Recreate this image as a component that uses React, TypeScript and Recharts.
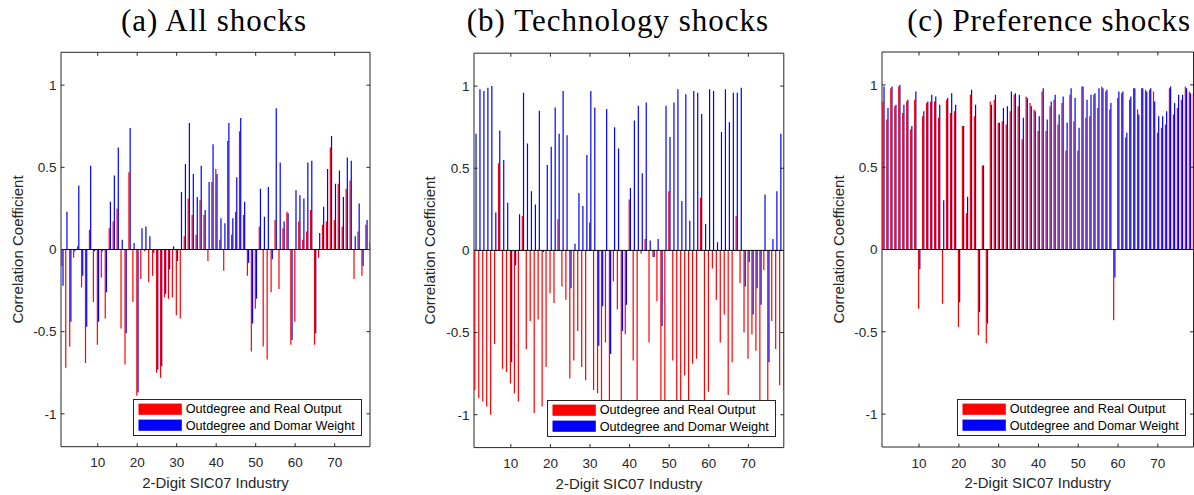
import React from 'react';
import { BarChart, Bar, XAxis, YAxis, ReferenceLine, ReferenceArea, Legend } from 'recharts';

// industries (2-digit SIC07 index) and axis ticks
const INDUSTRIES = [
  1, 2, 3, 4, 5, 6, 7, 8, 9, 10, 11, 12, 13, 14, 15, 16, 17, 18, 19, 20,
  21, 22, 23, 24, 25, 26, 27, 28, 29, 30, 31, 32, 33, 34, 35, 36, 37, 38, 39, 40,
  41, 42, 43, 44, 45, 46, 47, 48, 49, 50, 51, 52, 53, 54, 55, 56, 57, 58, 59, 60,
  61, 62, 63, 64, 65, 66, 67, 68, 69, 70, 71, 72, 73, 74, 75, 76, 77, 78, 79,
];
const X_TICKS = [10, 20, 30, 40, 50, 60, 70];
const Y_TICKS = [-1, -0.5, 0, 0.5, 1];

// (a) all shocks
const ALL_REAL = [
  -0.10, -0.72, -0.59, -0.05, 0.02, -0.23, -0.69, 0.12, -0.32, -0.58,
  -0.17, -0.42, 0.13, 0.17, 0.25, -0.48, -0.70, 0.47, -0.32, -0.89,
  -0.18, -0.01, -0.20, -0.16, -0.75, -0.78, -0.29, -0.30, -0.29, -0.40,
  -0.42, 0.08, 0.31, 0.21, 0.09, 0.30, 0.21, -0.07, 0.41, 0.49,
  0.06, -0.13, 0.66, 0.09, 0.23, 0.72, 0.21, -0.16, -0.62, -0.36,
  0.14, -0.59, -0.67, -0.26, 0.18, -0.24, 0.13, 0.23, -0.58, -0.44,
  0.17, 0.06, 0.11, 0.24, -0.58, -0.05, 0.15, 0.17, 0.62, 0.18,
  0.40, 0.14, 0.37, 0.42, -0.18, 0.11, -0.16, 0.15, 0.05,
];
const ALL_DOMAR = [
  -0.22, 0.23, -0.44, -0.01, 0.39, -0.16, -0.47, 0.51, -0.01, -0.44,
  -0.01, -0.26, 0.29, 0.45, 0.62, 0.06, -0.51, 0.74, 0.04, -0.87,
  0.13, 0.14, 0.08, -0.02, -0.73, -0.71, -0.27, -0.12, 0.02, -0.07,
  0.35, 0.52, 0.77, 0.46, 0.32, 0.51, 0.24, 0.41, 0.64, 0.46,
  0.19, 0.16, 0.77, 0.19, 0.44, 0.80, 0.29, -0.08, -0.45, -0.30,
  0.37, 0.20, 0.38, -0.06, 0.86, 0.53, 0.17, 0.22, -0.55, 0.36,
  0.33, 0.31, 0.53, 0.54, -0.51, 0.10, 0.26, 0.49, 0.69, 0.40,
  0.48, 0.32, 0.56, 0.54, 0.08, 0.28, -0.10, 0.18, 0.10,
];

// (b) technology shocks
const TECH_REAL = [
  -0.85, -0.90, -0.92, -0.95, -1.00, -0.57, 0.53, -0.72, -0.74, -0.81,
  -0.87, -0.92, 0.21, -0.60, -0.43, -0.99, -0.42, -0.95, -0.71, -0.26,
  -0.32, 0.19, -0.22, -0.30, -0.78, -0.67, -0.49, -0.71, -0.79, 0.17,
  -0.85, -0.87, -0.95, -0.56, -0.93, -0.19, -0.36, -0.91, -0.51, 0.31,
  -0.67, -0.92, -0.02, 0.07, -0.56, -0.04, -0.31, -0.96, -0.97, 0.36,
  -0.67, -0.98, -0.95, -0.76, -0.94, -0.69, -0.66, 0.32, -0.97, -0.86,
  -0.11, -0.30, -0.56, -0.39, -0.88, -0.68, 0.21, -0.20, -0.50, -0.66,
  -0.51, -0.61, -0.94, -0.12, -0.96, -0.43, -0.60, -0.82, -0.85,
];
const TECH_DOMAR = [
  0.71, 0.98, 0.97, 0.99, 1.00, 0.23, 0.73, 0.55, 0.29, -0.68,
  -0.09, 0.22, 0.96, 0.65, 0.36, 0.28, 0.85, -0.01, 0.52, 0.63,
  0.87, 0.71, 0.97, 0.70, -0.23, 0.04, 0.35, 0.27, 0.58, 0.97,
  0.87, -0.58, -0.34, 0.86, -0.63, 0.75, 0.62, -0.49, -0.33, 0.38,
  0.79, 0.88, 0.47, 0.90, 0.06, -0.04, 0.07, -0.46, 0.88, 0.69,
  0.90, 0.98, 0.30, 0.95, 0.18, 0.97, 0.96, 0.83, 0.16, 0.98,
  0.97, 0.05, 0.72, 0.98, 0.78, 0.96, 0.96, 0.99, -0.22, -0.07,
  -0.39, -0.23, -0.33, 0.34, -0.68, 0.07, 0.36, 0.71, 0.50,
];

// (c) preference shocks
const PREF_REAL = [
  0.90, 0.79, 0.98, 0.87, 0.99, 0.83, 0.90, 0.73, 0.91, -0.36,
  0.81, 0.89, 0.90, 0.90, 0.80, -0.33, 0.91, 0.83, 0.84, -0.47,
  0.75, 0.22, 0.94, 0.81, -0.52, 0.51, -0.57, 0.90, 0.91, 0.77,
  0.78, 0.76, 0.84, 0.94, 0.87, 0.67, 0.93, 0.89, 0.85, 0.72,
  0.96, 0.72, 0.87, 0.91, 0.76, 0.89, 0.60, 0.94, 0.78, 0.60,
  0.99, 0.80, 0.81, 0.94, 0.86, 0.99, 0.96, 0.85, -0.43, 0.92,
  0.95, 0.68, 0.91, 0.98, 0.85, 0.98, 0.97, 0.97, 0.96, 0.71,
  0.74, 0.76, 0.98, 0.82, 0.86, 0.91, 0.99, 0.96, 0.95,
];
const PREF_DOMAR = [
  0.99, 0.86, 0.99, 0.88, 1.00, 0.88, 0.91, 0.75, 0.96, -0.12,
  0.84, 0.90, 0.94, 0.93, 0.88, 0.30, 0.92, 0.95, 0.88, -0.32,
  0.75, 0.32, 0.97, 0.88, -0.38, 0.51, -0.45, 0.88, 0.94, 0.77,
  0.86, 0.87, 0.96, 0.95, 0.94, 0.80, 0.92, 0.87, 0.84, 0.81,
  0.98, 0.79, 0.90, 0.94, 0.82, 0.93, 0.77, 0.98, 0.92, 0.74,
  0.99, 0.91, 0.94, 0.95, 0.98, 0.98, 0.97, 0.89, -0.17, 0.96,
  0.96, 0.71, 0.93, 0.98, 0.82, 0.98, 0.96, 0.98, 0.90, 0.81,
  0.81, 0.84, 0.99, 0.89, 0.94, 0.94, 0.98, 0.95, 0.95,
];

const TITLES = ['(a) All shocks', '(b) Technology shocks', '(c) Preference shocks'];
const SERIES_NAMES = ['Outdegree and Real Output', 'Outdegree and Domar Weight'];
const SERIES_COLORS = ['#ff0000', '#0000ff'];
const X_LABEL = '2-Digit SIC07 Industry';
const Y_LABEL = 'Correlation Coefficient';

const X_MIN = 0.7;
const X_MAX = 78.95;
const Y_MIN = -1.2;
const Y_MAX = 1.2;
const AXIS_W = 61;
const RIGHT_PAD = 14;
const H = 495;
const SANS = '"Liberation Sans", Arial, Helvetica, sans-serif';
const FRAME = '#262626';
const TICK_LEN = 3.5;

const PANELS = [
  { title: TITLES[0], titleX: 214, spacing: 1, left: 61, top: 52.3, plotW: 309, plotH: 394.4, real: ALL_REAL, domar: ALL_DOMAR },
  { title: TITLES[1], titleX: 618, spacing: 1, left: 474.3, top: 53.2, plotW: 309.8, plotH: 394.4, real: TECH_REAL, domar: TECH_DOMAR },
  { title: TITLES[2], titleX: 1049, spacing: 0.8, left: 882.3, top: 52.0, plotW: 311.5, plotH: 395, real: PREF_REAL, domar: PREF_DOMAR },
];

function buildRows(real: number[], domar: number[]) {
  return INDUSTRIES.map((x, i) => ({ x, real: real[i], domar: domar[i] }));
}

const renderLegend = (props: any) => {
  const items = props.payload || [];
  // keep the series order of the original figure
  const ordered = SERIES_NAMES.map((name, i) => {
    const hit = items.find((it: any) => it.value === name);
    return { value: name, color: hit ? hit.color : SERIES_COLORS[i] };
  });
  return (
    <svg width={229} height={37} style={{ display: 'block' }}>
      <rect x={0.5} y={0.5} width={228} height={36} fill="#fff" stroke={FRAME} />
      {ordered.map((it, i) => (
        <g key={it.value}>
          <rect x={5.5} y={4.6 + 16 * i} width={43.3} height={11.2} fill={it.color} />
          <text x={52.7} y={14.4 + 16.2 * i} fontSize={12.7} fontFamily={SANS} fill="#000">
            {it.value}
          </text>
        </g>
      ))}
    </svg>
  );
};

interface PanelProps {
  left: number;
  top: number;
  plotW: number;
  plotH: number;
  real: number[];
  domar: number[];
}

function Panel({ left, top, plotW, plotH, real, domar }: PanelProps) {
  const rows = buildRows(real, domar);
  const xAxisH = H - top - plotH;

  // inward ticks on both sides, MATLAB style
  const XTick = (p: any) => {
    const { x, y, payload } = p;
    return (
      <g>
        <line x1={x} x2={x} y1={y} y2={y - TICK_LEN} stroke={FRAME} />
        <line x1={x} x2={x} y1={y - plotH} y2={y - plotH + TICK_LEN} stroke={FRAME} />
        <text x={x} y={y + 20.6} textAnchor="middle" fontSize={13.5} fontFamily={SANS} fill={FRAME}>
          {payload.value}
        </text>
      </g>
    );
  };

  const YTick = (p: any) => {
    const { x, y, payload } = p;
    return (
      <g>
        <line x1={x} x2={x + TICK_LEN} y1={y} y2={y} stroke={FRAME} />
        <line x1={x + plotW} x2={x + plotW - TICK_LEN} y1={y} y2={y} stroke={FRAME} />
        <text x={x - 4.5} y={y + 4.8} textAnchor="end" fontSize={13.5} fontFamily={SANS} fill={FRAME}>
          {payload.value}
        </text>
      </g>
    );
  };

  const xLabel = (p: any) => {
    const vb = p.viewBox || { x: AXIS_W, y: top + plotH, width: plotW };
    return (
      <text x={vb.x + vb.width / 2} y={vb.y + 41.3} textAnchor="middle" fontSize={15} fontFamily={SANS} fill={FRAME}>
        {X_LABEL}
      </text>
    );
  };

  const yLabel = (p: any) => {
    const vb = p.viewBox || { x: 0, y: top, width: AXIS_W, height: plotH };
    const cx = vb.x + vb.width - 38.5;
    const cy = vb.y + vb.height / 2;
    return (
      <text x={cx} y={cy} transform={`rotate(-90, ${cx}, ${cy})`} textAnchor="middle" fontSize={15} fontFamily={SANS} fill={FRAME}>
        {Y_LABEL}
      </text>
    );
  };

  return (
    <div style={{ position: 'absolute', left: left - AXIS_W, top: 0 }}>
      <BarChart
        width={AXIS_W + plotW + RIGHT_PAD}
        height={H}
        data={rows}
        margin={{ top, right: RIGHT_PAD, bottom: 0, left: 0 }}
        barGap={0}
        barSize={1.2}
      >
        <XAxis
          dataKey="x"
          type="number"
          domain={[X_MIN, X_MAX]}
          allowDataOverflow
          ticks={X_TICKS}
          interval={0}
          height={xAxisH}
          axisLine={false}
          tickLine={false}
          tickSize={0}
          tickMargin={0}
          tick={XTick}
          label={{ value: X_LABEL, content: xLabel }}
        />
        <YAxis
          type="number"
          domain={[Y_MIN, Y_MAX]}
          allowDataOverflow
          ticks={Y_TICKS}
          interval={0}
          width={AXIS_W}
          axisLine={false}
          tickLine={false}
          tickSize={0}
          tickMargin={0}
          tick={YTick}
          label={{ value: Y_LABEL, content: yLabel }}
        />
        <Bar dataKey="real" name={SERIES_NAMES[0]} fill={SERIES_COLORS[0]} isAnimationActive={false} />
        <Bar dataKey="domar" name={SERIES_NAMES[1]} fill={SERIES_COLORS[1]} isAnimationActive={false} />
        <ReferenceLine y={0} stroke="#000" strokeWidth={1} />
        <ReferenceArea x1={X_MIN} x2={X_MAX} y1={Y_MIN} y2={Y_MAX} fill="none" stroke={FRAME} ifOverflow="visible" />
        <Legend
          layout="vertical"
          align="center"
          verticalAlign="middle"
          wrapperStyle={{ left: AXIS_W + plotW - 8 - 229, top: top + plotH - 11.4 - 36.6, width: 229, height: 37 }}
          content={renderLegend}
        />
      </BarChart>
    </div>
  );
}

export default function App() {
  return (
    <div
      style={{
        position: 'absolute',
        left: 0,
        top: 0,
        width: 1194,
        height: H,
        overflow: 'hidden',
        background: '#fff',
      }}
    >
      <svg width={1194} height={45} style={{ position: 'absolute', left: 0, top: 0 }}>
        {PANELS.map((p) => (
          <text
            key={p.title}
            x={p.titleX}
            y={31}
            textAnchor="middle"
            fontSize={31}
            letterSpacing={p.spacing}
            fontFamily='"Liberation Serif", "DejaVu Serif", serif'
            fill="#000"
          >
            {p.title}
          </text>
        ))}
      </svg>
      {PANELS.map((p) => (
        <Panel key={p.title} left={p.left} top={p.top} plotW={p.plotW} plotH={p.plotH} real={p.real} domar={p.domar} />
      ))}
    </div>
  );
}
